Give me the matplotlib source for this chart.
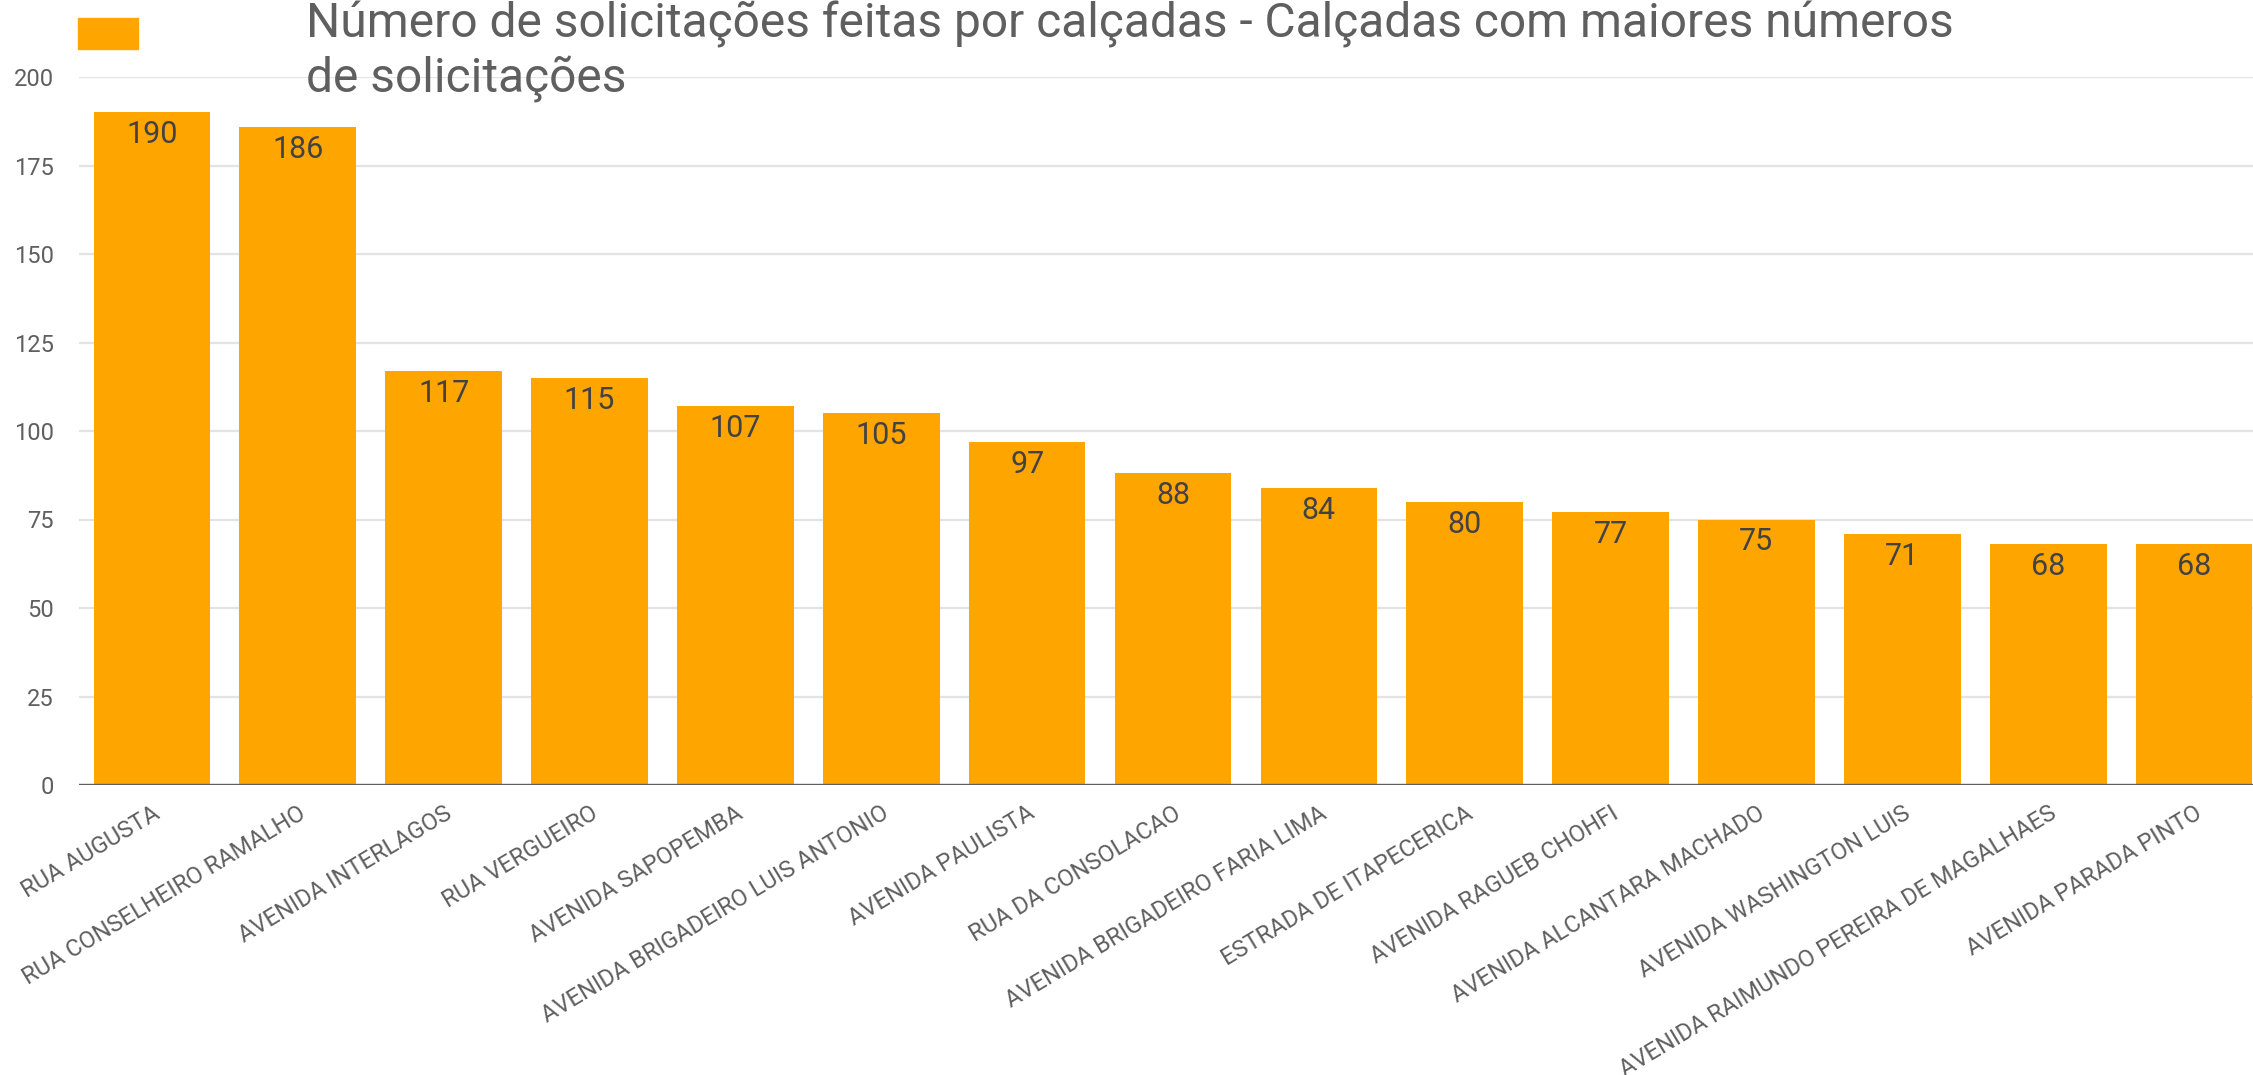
import numpy as np
import matplotlib
matplotlib.use("Agg")
import matplotlib.pyplot as plt
from matplotlib.patches import Rectangle

plt.rcParams['font.family'] = ['Roboto', 'DejaVu Sans']

ruas = ["RUA AUGUSTA", "RUA CONSELHEIRO RAMALHO", "AVENIDA INTERLAGOS",
        "RUA VERGUEIRO", "AVENIDA SAPOPEMBA", "AVENIDA BRIGADEIRO LUIS ANTONIO",
        "AVENIDA PAULISTA", "RUA DA CONSOLACAO", "AVENIDA BRIGADEIRO FARIA LIMA",
        "ESTRADA DE ITAPECERICA", "AVENIDA RAGUEB CHOHFI",
        "AVENIDA ALCANTARA MACHADO", "AVENIDA WASHINGTON LUIS",
        "AVENIDA RAIMUNDO PEREIRA DE MAGALHAES", "AVENIDA PARADA PINTO"]
solicitacoes = [190, 186, 117, 115, 107, 105, 97, 88, 84, 80, 77, 75, 71, 68, 68]
yticks = [0, 25, 50, 75, 100, 125, 150, 175, 200]

W, H = 2253, 1075
fig = plt.figure(figsize=(W / 100, H / 100), dpi=100)
ax = fig.add_axes([79 / W, 290 / H, 2188 / W, 708 / H])

x = np.arange(len(ruas))
bars = ax.bar(x, solicitacoes, width=0.8, color='#FFA500', zorder=2)

# valores dentro do topo da barra
for xi, v in zip(x, solicitacoes):
    ax.annotate(str(v), (xi, v), xytext=(0, -8), textcoords='offset pixels',
                ha='center', va='top', fontsize=22, color='#424242', zorder=3)

ax.set_xlim(-0.5, len(ruas) - 0.5)
ax.set_ylim(0, 200)
ax.set_yticks(yticks)
ax.set_yticklabels([str(t) for t in yticks], fontsize=17, color='#5f5f5f')
ax.tick_params(axis='y', length=0, pad=18)
ax.yaxis.grid(True, color='#e3e3e3', linewidth=1.6, zorder=0)
ax.axhline(0, color='#5f5f5f', linewidth=2.4, zorder=4)

ax.set_xticks(x)
ax.set_xticklabels(ruas, rotation=31, ha='right', va='top',
                   rotation_mode='anchor', fontsize=17, color='#5f5f5f')
ax.tick_params(axis='x', length=0, pad=12)

for s in ax.spines.values():
    s.set_visible(False)

# legenda (so o quadrado)
fig.patches.append(Rectangle((78 / W, 1 - 49 / H), 60 / W, 31 / H,
                             transform=fig.transFigure, color='#FFA500'))

fig.text(306 / W, 1 - 37 / H,
         "Número de solicitações feitas por calçadas - Calçadas com maiores números",
         fontsize=34.5, color='#5f5f5f', va='baseline', ha='left')
fig.text(306 / W, 1 - 92 / H, "de solicitações",
         fontsize=34.5, color='#5f5f5f', va='baseline', ha='left')

fig.savefig("out.png", dpi=100)
